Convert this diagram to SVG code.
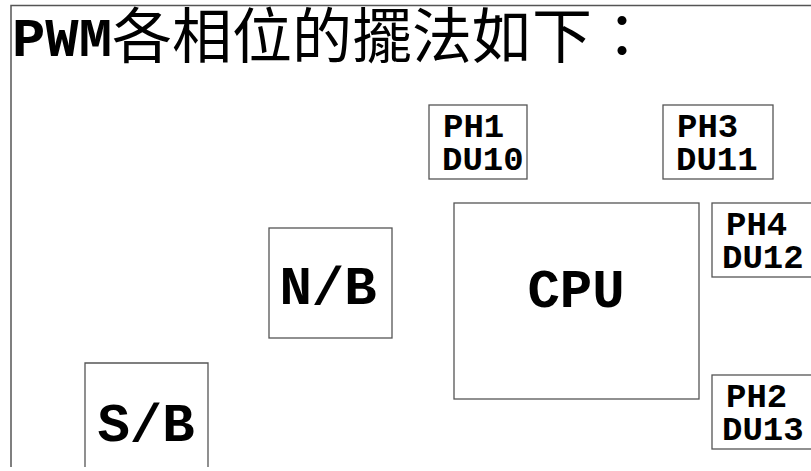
<svg xmlns="http://www.w3.org/2000/svg" width="811" height="471" viewBox="0 0 811 471">
<style>
.box{fill:#fff;stroke:#555;stroke-width:1.3}
.frame{fill:none;stroke:#555;stroke-width:1.5}
.mono{font-family:"Liberation Mono","Courier New",monospace;font-weight:bold;fill:#000}
.big{font-size:54px}
.small{font-size:34px}
.cjk{font-family:"Noto Sans CJK TC","Noto Sans CJK SC",sans-serif;font-size:60px;fill:#000}
</style>
<rect width="811" height="471" fill="#fff"/>
<path class="frame" d="M811,5.5 H11 V467"/>
<g id="title">
<text x="12" y="56" class="mono big" textLength="100" lengthAdjust="spacingAndGlyphs">PWM</text>
<text x="112" y="58" class="cjk">各相位的擺法如下：</text>
</g>
<g id="ph1"><rect class="box" x="429" y="105" width="98" height="74"/>
<text class="mono small" x="443" y="137">PH1</text><text class="mono small" x="442" y="170">DU10</text></g>
<g id="ph3"><rect class="box" x="663" y="105" width="110" height="74"/>
<text class="mono small" x="677" y="137">PH3</text><text class="mono small" x="676" y="170">DU11</text></g>
<g id="cpu"><rect class="box" x="454" y="203" width="245" height="196"/>
<text class="mono big" x="576" y="307" text-anchor="middle">CPU</text></g>
<g id="ph4"><rect class="box" x="712" y="203" width="110" height="74"/>
<text class="mono small" x="726" y="235">PH4</text><text class="mono small" x="722" y="268">DU12</text></g>
<g id="ph2"><rect class="box" x="712" y="375" width="110" height="74"/>
<text class="mono small" x="726" y="407">PH2</text><text class="mono small" x="722" y="440">DU13</text></g>
<g id="nb"><rect class="box" x="269" y="228" width="123" height="110"/>
<text class="mono big" x="328" y="304" text-anchor="middle">N/B</text></g>
<g id="sb"><path class="box" d="M85,467 V363 H208 V467"/>
<text class="mono big" x="146" y="441" text-anchor="middle">S/B</text></g>
<g id="connectors"/>
</svg>
